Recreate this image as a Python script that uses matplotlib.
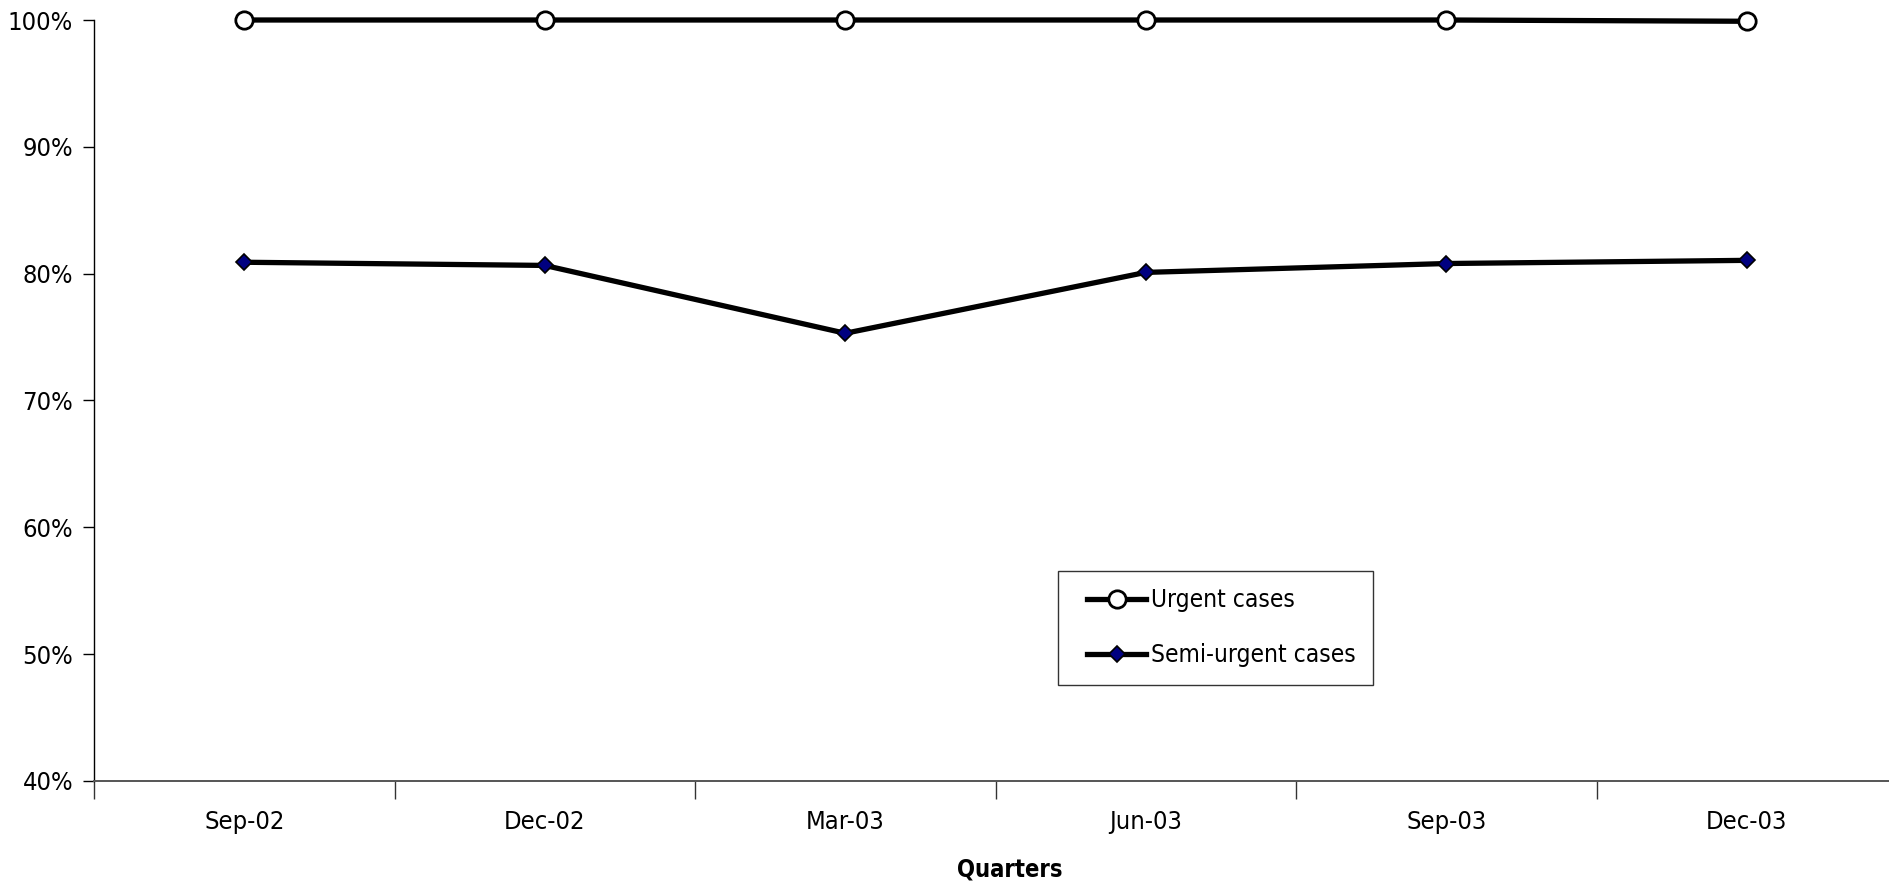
import matplotlib
matplotlib.use("Agg")
import matplotlib.pyplot as plt
from matplotlib import font_manager
from matplotlib.font_manager import FontProperties
from matplotlib.legend_handler import HandlerLine2D
from matplotlib.lines import Line2D

quarters = ["Sep-02", "Dec-02", "Mar-03", "Jun-03", "Sep-03", "Dec-03"]
urgent = [100, 100, 100, 100, 100, 99.9]
semi_urgent = [80.9, 80.65, 75.3, 80.1, 80.8, 81.05]

# find a condensed / narrow sans font file
paths = [f.fname for f in font_manager.fontManager.ttflist]
def pick(keys, bold=False):
    for k in keys:
        for p in sorted(paths):
            base = p.split('/')[-1]
            if k in base:
                isb = 'Bold' in base
                iso = 'Italic' in base or 'Oblique' in base
                if isb == bold and not iso:
                    return p
    return None

keys = ["LiberationSansNarrow-Regular", "LiberationSansNarrow", "DejaVuSansCondensed",
        "RobotoCondensed", "OpenSans_Condensed", "OpenSansCondensed"]
reg = pick(keys, bold=False)
keysb = ["LiberationSansNarrow-Bold", "LiberationSansNarrow", "DejaVuSansCondensed-Bold",
         "DejaVuSansCondensed", "RobotoCondensed"]
bld = pick(keysb, bold=True)

def fp(size, bold=False):
    p = bld if bold else reg
    if p:
        return FontProperties(fname=p, size=size)
    return FontProperties(family='DejaVu Sans', size=size, weight='bold' if bold else 'normal')

fig = plt.figure(figsize=(18.9, 8.82), dpi=100)
W, H = 1890, 882
left, right, top, bottom = 94, 1897, 20, 781
ax = fig.add_axes([left / W, 1 - bottom / H, (right - left) / W, (bottom - top) / H])

x = list(range(len(quarters)))
l1, = ax.plot(x, urgent, color='black', lw=3.8, marker='o', ms=12.5, mfc='white',
              mec='black', mew=2, label='Urgent cases', zorder=3, clip_on=False)
l2, = ax.plot(x, semi_urgent, color='black', lw=3.8, marker='D', ms=8, mfc='#000080',
              mec='black', mew=1.2, label='Semi-urgent cases', zorder=3, clip_on=False)

ax.set_xlim(-0.5, len(quarters) - 0.5)
ax.set_ylim(40, 100)
yt = [40, 50, 60, 70, 80, 90, 100]
ax.set_yticks(yt)
ax.set_yticklabels([f"{v}%" for v in yt], fontproperties=fp(18.3))
ax.set_xticks([i - 0.5 for i in range(len(quarters) + 1)])
ax.set_xticklabels([])
ax.set_xticks(x, minor=True)
ax.set_xticklabels(quarters, minor=True, fontproperties=fp(18.3))
ax.tick_params(axis='x', which='major', length=13, direction='out', width=1, color='#333333')
ax.tick_params(axis='x', which='minor', length=0, pad=21)
ax.tick_params(axis='y', length=8, width=1, direction='out', pad=7)

for s in ['top', 'right']:
    ax.spines[s].set_visible(False)
ax.spines['left'].set_linewidth(1)
ax.spines['bottom'].set_linewidth(1.4)
ax.spines['bottom'].set_color('#555555')

fig.text(1010 / W, 1 - 869 / H, "Quarters", fontproperties=fp(17, bold=True),
         ha='center', va='center')

xpad = 0.5
leg = ax.legend(loc='upper left', bbox_to_anchor=((1058 - left) / (right - left), 1 - (571 - top) / (bottom - top)),
                frameon=True, fancybox=False, edgecolor='black', prop=fp(17.6),
                borderpad=0.7, labelspacing=1.28, handlelength=2.4 + xpad, handletextpad=0.2,
                borderaxespad=0,
                handler_map={Line2D: HandlerLine2D(xpad=xpad)})
leg.get_frame().set_linewidth(1)

fig.savefig("out.png", dpi=100, facecolor='white')
